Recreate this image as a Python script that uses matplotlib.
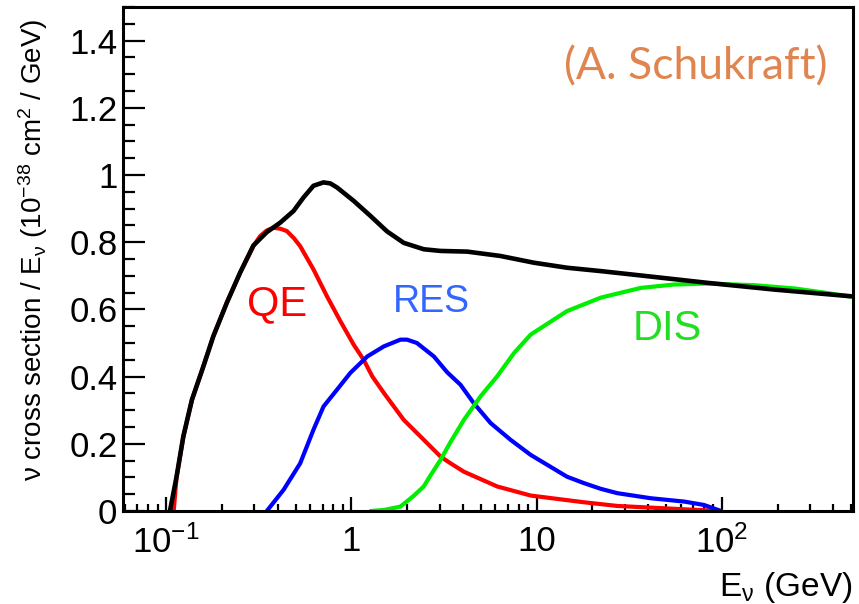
import matplotlib
matplotlib.use("Agg")
import matplotlib.pyplot as plt
from matplotlib.ticker import FixedLocator, FixedFormatter, LogLocator, MultipleLocator, NullFormatter

# neutrino energy (GeV) and cross section / E (1e-38 cm^2 / GeV)
tot_e = [0.105, 0.114, 0.124, 0.138, 0.159, 0.180, 0.213, 0.251, 0.296, 0.350, 0.413, 0.488,
         0.552, 0.625, 0.708, 0.770, 0.837, 1.03, 1.27, 1.56, 1.92, 2.46, 3.03, 4.22, 6.38,
         9.66, 14.6, 22.2, 36.5, 83.7, 192, 498]
tot_v = [0.0, 0.102, 0.222, 0.331, 0.430, 0.520, 0.620, 0.709, 0.790, 0.830, 0.858, 0.893,
         0.933, 0.968, 0.978, 0.975, 0.963, 0.923, 0.878, 0.832, 0.798, 0.779, 0.774, 0.772, 0.759,
         0.739, 0.724, 0.714, 0.701, 0.679, 0.659, 0.639]

qe_e = [0.110, 0.114, 0.124, 0.138, 0.159, 0.180, 0.213, 0.251, 0.296, 0.322, 0.350, 0.380,
        0.415, 0.449, 0.490, 0.530, 0.625, 0.739, 0.873, 1.03, 1.166, 1.30, 1.50, 1.92, 2.46,
        3.03, 3.43, 4.05, 6.13, 9.29, 18.0, 27.3, 45.0, 62.7, 99.0]
qe_v = [0.0, 0.10, 0.22, 0.331, 0.430, 0.520, 0.620, 0.709, 0.788, 0.818, 0.835, 0.843,
        0.840, 0.833, 0.812, 0.788, 0.719, 0.639, 0.565, 0.495, 0.450, 0.400, 0.351, 0.271, 0.212,
        0.162, 0.142, 0.117, 0.073, 0.046, 0.026, 0.015, 0.009, 0.005, 0.0]

res_e = [0.350, 0.431, 0.530, 0.625, 0.708, 0.837, 0.988, 1.22, 1.50, 1.84, 2.00, 2.26,
         2.79, 3.29, 3.88, 4.58, 5.64, 7.23, 9.29, 14.6, 18.0, 22.2, 27.3, 41.3, 62.7, 80.0, 99.0]
res_v = [0.0, 0.063, 0.142, 0.242, 0.311, 0.361, 0.411, 0.460, 0.490, 0.510, 0.510, 0.500,
         0.460, 0.413, 0.376, 0.321, 0.262, 0.212, 0.167, 0.102, 0.083, 0.066, 0.053, 0.038, 0.028,
         0.018, 0.0]

dis_e = [1.27, 1.50, 1.84, 2.17, 2.46, 2.67, 3.03, 3.43, 4.05, 4.98, 6.13, 7.55, 9.29, 14.6,
         22.2, 36.5, 55.2, 83.7, 150, 250, 356, 498]
dis_v = [0.0, 0.003, 0.013, 0.045, 0.073, 0.105, 0.152, 0.205, 0.271, 0.341, 0.401, 0.470,
         0.525, 0.595, 0.635, 0.664, 0.674, 0.677, 0.672, 0.662, 0.650, 0.638]

xtick_vals = [0.1, 1, 10, 100]
xtick_labels = [r"$10^{-1}$", "1", "10", r"$10^{2}$"]


def main():
    plt.rcParams['font.family'] = ['Liberation Sans', 'DejaVu Sans']
    plt.rcParams['mathtext.fontset'] = 'custom'
    plt.rcParams['mathtext.rm'] = 'Liberation Sans'
    plt.rcParams['mathtext.it'] = 'Liberation Sans'
    plt.rcParams['mathtext.default'] = 'regular'

    fig = plt.figure(figsize=(8.59, 6.04), dpi=100)
    ax = fig.add_axes([123 / 859, 1 - 511 / 604, 730 / 859, 504 / 604])

    ax.plot(qe_e, qe_v, color='#ff0000', lw=3.0, solid_joinstyle='round', solid_capstyle='round')
    ax.plot(res_e, res_v, color='#0000ff', lw=3.0, solid_joinstyle='round', solid_capstyle='round')
    ax.plot(dis_e, dis_v, color='#00ee00', lw=3.0, solid_joinstyle='round', solid_capstyle='round')
    ax.plot(tot_e, tot_v, color='black', lw=3.3, solid_joinstyle='round', solid_capstyle='round')

    ax.set_xscale('log')
    ax.set_xlim(0.0586, 510)
    ax.set_ylim(0, 1.5)

    ax.xaxis.set_major_locator(FixedLocator(xtick_vals))
    ax.xaxis.set_major_formatter(FixedFormatter(xtick_labels))
    ax.xaxis.set_minor_locator(LogLocator(base=10, subs=range(2, 10)))
    ax.xaxis.set_minor_formatter(NullFormatter())
    ax.yaxis.set_major_locator(MultipleLocator(0.2))
    ax.yaxis.set_minor_locator(MultipleLocator(0.05))
    ax.yaxis.set_major_formatter(plt.FuncFormatter(lambda v, p: "%g" % round(v, 1)))

    ax.tick_params(axis='both', which='both', direction='in', top=False, right=False, width=1.6)
    ax.tick_params(axis='y', which='major', length=16, labelsize=25, pad=4)
    ax.tick_params(axis='y', which='minor', length=8.5)
    ax.tick_params(axis='x', which='major', length=10, labelsize=25, pad=10)
    ax.tick_params(axis='x', which='minor', length=5)
    for s in ax.spines.values():
        s.set_linewidth(2.2)

    fig.text(33 / 859, 1 - 250 / 604,
             r"$\nu$ cross section / E$_{\nu}$ (10$^{-38}$ cm$^{2}$ / GeV)",
             rotation=90, ha='center', va='center', fontsize=20)
    fig.text(852 / 859, 1 - 596 / 604, r"E$_{\nu}$ (GeV)", ha='right', va='baseline', fontsize=24)

    fig.text(277 / 859, 1 - 304 / 604, "QE", color='#ff0000', fontsize=30, ha='center', va='center')
    fig.text(431 / 859, 1 - 302 / 604, "RES", color='#3366ff', fontsize=27, ha='center', va='center')
    fig.text(667 / 859, 1 - 329 / 604, "DIS", color='#22dd22', fontsize=30, ha='center', va='center')
    fig.text(696 / 859, 1 - 67 / 604, "(A. Schukraft)", color='#e0854f', fontsize=32,
             ha='center', va='center', family=['Lato', 'DejaVu Sans'])

    fig.savefig("out.png", dpi=100)


if __name__ == "__main__":
    main()
